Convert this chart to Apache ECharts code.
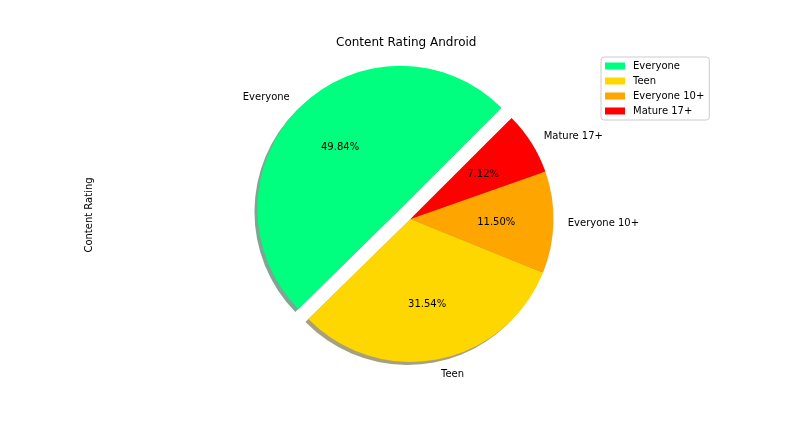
<!DOCTYPE html>
<html>
<head>
<meta charset="utf-8">
<script src="https://cdn.jsdelivr.net/npm/echarts@6/dist/echarts.min.js"></script>
<style>
  html, body { margin: 0; padding: 0; background: #fff; }
  #main { width: 792px; height: 432px; }
</style>
</head>
<body>
<div id="main"></div>
<script>
// data
const ratings = ['Everyone', 'Teen', 'Everyone 10+', 'Mature 17+'];
const shares = [49.84, 31.54, 11.50, 7.12];
const colors = ['#00ff7f', '#ffd700', '#ffa500', '#ff0000'];
const shadowColors = ['rgba(0,77,38,0.5)', 'rgba(77,65,0,0.5)', 'rgba(77,50,0,0.5)', 'rgba(77,0,0,0.5)'];
const exploded = [true, false, false, false];

const FONT = 'DejaVu Sans';
const cx = 410.5, cy = 219, R = 143;
const offset = R * 0.1;

const chart = echarts.init(document.getElementById('main'), null, { renderer: 'canvas' });

const mkData = (colArr) => ratings.map((name, i) => ({
    name: name,
    value: shares[i],
    selected: exploded[i],
    itemStyle: { color: colArr[i] }
}));

const common = {
    type: 'pie',
    startAngle: 45,
    clockwise: false,
    selectedMode: 'multiple',
    selectedOffset: offset,
    avoidLabelOverlap: false,
    animation: false,
    emphasis: { disabled: true },
    select: { disabled: false, itemStyle: {} }
};

chart.setOption({
    animation: false,
    legend: {
        orient: 'vertical',
        left: 601, top: 57,
        data: ratings,
        itemWidth: 20, itemHeight: 7, itemGap: 5,
        padding: [4, 5, 4, 4],
        borderColor: '#cccccc', borderWidth: 1, borderRadius: 3,
        backgroundColor: 'rgba(255,255,255,0.8)',
        icon: 'rect',
        selectedMode: false,
        textStyle: { fontFamily: FONT, fontSize: 10, color: '#000', padding: [0, 0, 0, 3] }
    },
    graphic: [
        { type: 'text', left: 406 - 70, top: 37, style: { text: 'Content Rating Android', font: '12px "DejaVu Sans"', fill: '#000' } },
        { type: 'text', x: 89, y: 215, rotation: Math.PI / 2,
          style: { text: 'Content Rating', font: '10px "DejaVu Sans"', fill: '#000', align: 'center', verticalAlign: 'middle' } }
    ],
    series: [
        Object.assign({}, common, {
            name: 'main', z: 3,
            center: [cx, cy], radius: [0, R],
            data: mkData(colors),
            label: {
                show: true, position: 'outside', distanceToLabelLine: 0,
                fontFamily: FONT, fontSize: 10, color: '#000',
                offset: [0, 1],
                formatter: '{b}'
            },
            labelLine: { show: false, length: offset, length2: 0 }
        }),
        Object.assign({}, common, {
            name: 'shadow', z: 2, silent: true,
            center: [cx - 3, cy + 3], radius: [0, R],
            data: mkData(shadowColors),
            label: { show: false }, labelLine: { show: false }
        }),
        Object.assign({}, common, {
            name: 'pct', z: 4, silent: true,
            center: [cx, cy], radius: [0.2 * R - 6, R],
            data: mkData(ratings.map(() => 'rgba(0,0,0,0)')),
            label: {
                show: true, position: 'inside',
                fontFamily: FONT, fontSize: 10, color: '#000',
                offset: [0, 1],
                formatter: (p) => p.value.toFixed(2) + '%'
            },
            labelLine: { show: false }
        })
    ]
});
</script>
</body>
</html>
